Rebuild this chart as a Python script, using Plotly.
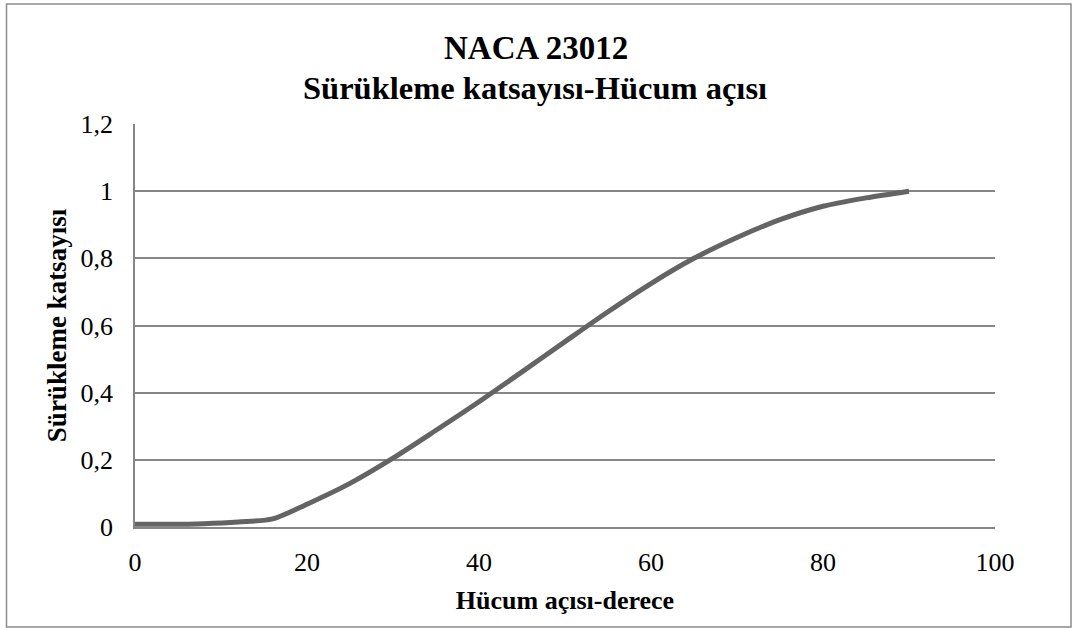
import plotly.graph_objects as go

# Angle of attack (degrees) and drag coefficient for NACA 23012
angle_deg = [0, 4, 8, 12, 16, 20, 25, 30, 35, 40, 45, 50, 55, 60, 65, 70, 75, 80, 85, 90]
drag_coef = [0.008, 0.008, 0.010, 0.015, 0.024, 0.068, 0.130, 0.205, 0.288, 0.373,
             0.462, 0.552, 0.641, 0.725, 0.800, 0.862, 0.915, 0.955, 0.980, 1.000]

x_ticks = [0, 20, 40, 60, 80, 100]
y_ticks = [0, 0.2, 0.4, 0.6, 0.8, 1.0, 1.2]

FONT = "Liberation Serif, Times New Roman, serif"
W, H = 1073, 628
ML, MR, MT, MB = 135, 78, 124, 101

fig = go.Figure()
fig.add_trace(go.Scatter(
    x=angle_deg, y=drag_coef, mode="lines",
    line=dict(color="#646464", width=5, shape="spline", smoothing=0.8),
    hoverinfo="x+y", showlegend=False,
))

pw, ph = W - ML - MR, H - MT - MB

def px_x(p):
    return (p - ML) / pw

def px_y(p):
    return (H - MB - p) / ph

fig.update_layout(
    width=W, height=H,
    margin=dict(l=ML, r=MR, t=MT, b=MB),
    paper_bgcolor="white", plot_bgcolor="white",
    separators=",.",
    font=dict(family=FONT, color="black", size=26),
    xaxis=dict(
        range=[0, 100], tickvals=x_ticks, showgrid=False, zeroline=False,
        showline=True, linecolor="#868686", linewidth=1.5,
        ticks="outside", ticklen=11, tickcolor="rgba(0,0,0,0)",
        tickfont=dict(size=26), fixedrange=True,
        title=dict(text="<b>Hücum açısı-derece</b>", font=dict(size=26), standoff=15),
    ),
    yaxis=dict(
        range=[0, 1.2], tickvals=y_ticks, showgrid=True, gridcolor="#868686", gridwidth=1.5,
        zeroline=False, showline=True, linecolor="#868686", linewidth=1.5,
        ticks="outside", ticklen=15, tickcolor="rgba(0,0,0,0)",
        tickfont=dict(size=26), fixedrange=True,
        title=dict(text="<b>Sürükleme katsayısı</b>", font=dict(size=27), standoff=6),
    ),
    annotations=[
        dict(text="<b>NACA 23012</b>", xref="paper", yref="paper",
             x=px_x(536), y=px_y(48), showarrow=False,
             font=dict(size=33, family=FONT), xanchor="center", yanchor="middle"),
        dict(text="<b>Sürükleme katsayısı-Hücum açısı</b>", xref="paper", yref="paper",
             x=px_x(535), y=px_y(88), showarrow=False,
             font=dict(size=32.5, family=FONT), xanchor="center", yanchor="middle"),
    ],
    shapes=[
        dict(type="rect", xref="paper", yref="paper",
             x0=px_x(6.5), x1=px_x(1071), y0=px_y(627), y1=px_y(4),
             line=dict(color="#8c8c8c", width=1.5), fillcolor="rgba(0,0,0,0)", layer="below"),
    ],
)

fig.write_html("out.html")
